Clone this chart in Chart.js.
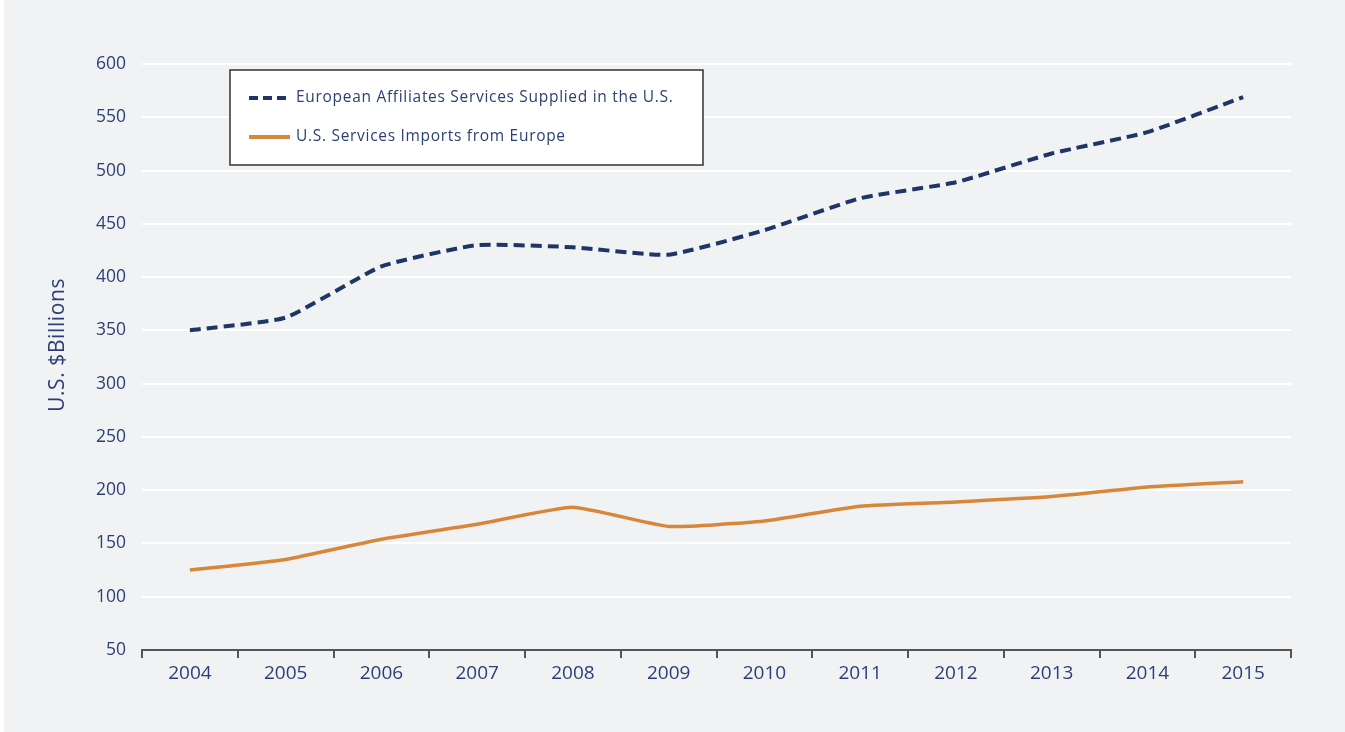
<!DOCTYPE html>
<html>
<head>
<meta charset="utf-8">
<script src="https://cdn.jsdelivr.net/npm/chart.js@4/dist/chart.umd.min.js"></script>
<style>
  html, body { margin:0; padding:0; background:#f1f2f4; }
  #wrap { position:relative; width:1345px; height:732px; }
</style>
</head>
<body>
<div id="wrap"><canvas id="chart" width="1345" height="732"></canvas></div>
<script>
const years = ["2004","2005","2006","2007","2008","2009","2010","2011","2012","2013","2014","2015"];
const affiliates = [350, 362, 410, 430, 428, 421, 444, 474, 489, 516, 536, 569];
const imports = [125, 135, 154, 168, 184, 166, 171, 185, 189, 194, 203, 208];
const seriesNames = ["European Affiliates Services Supplied in the U.S.", "U.S. Services Imports from Europe"];
const yTitle = "U.S. $Billions";

const NAVY = "#1f3467";
const ORANGE = "#d8873a";
const TEXT = "#2c3f74";
const FONT = "'Open Sans', Lato, sans-serif";

/* background: white strip on the left, grey panel */
const bgPlugin = {
  id: "bg",
  beforeDraw(chart) {
    const ctx = chart.ctx;
    ctx.save();
    ctx.fillStyle = "#ffffff";
    ctx.fillRect(0, 0, chart.width, chart.height);
    ctx.fillStyle = "#f1f2f4";
    ctx.fillRect(4, 0, chart.width - 4, chart.height);
    ctx.restore();
  }
};

/* boxed legend inside the plot + rotated y title */
const boxLegend = {
  id: "boxLegend",
  afterDraw(chart) {
    const ctx = chart.ctx;
    ctx.save();
    ctx.fillStyle = "#ffffff";
    ctx.fillRect(230, 70, 473, 95);
    ctx.strokeStyle = "#333333";
    ctx.lineWidth = 1.5;
    ctx.strokeRect(230, 70, 473, 95);

    const rows = [98, 137];
    chart.data.datasets.forEach((ds, i) => {
      const y = rows[i];
      ctx.beginPath();
      ctx.strokeStyle = ds.borderColor;
      ctx.lineWidth = 4;
      ctx.setLineDash(i === 0 ? [9, 5] : []);
      ctx.moveTo(249, y);
      ctx.lineTo(290, y);
      ctx.stroke();
      ctx.setLineDash([]);
      ctx.fillStyle = TEXT;
      ctx.font = "15.5px " + FONT;
      ctx.letterSpacing = "0.7px";
      ctx.textBaseline = "middle";
      ctx.fillText(ds.label, 296, y);
    });

    ctx.translate(58, 345);
    ctx.rotate(-Math.PI / 2);
    ctx.font = "21px " + FONT;
    ctx.letterSpacing = "0.6px";
    ctx.textAlign = "center";
    ctx.textBaseline = "middle";
    ctx.fillStyle = TEXT;
    ctx.fillText(yTitle, 0, 0);
    ctx.restore();
  }
};

new Chart(document.getElementById("chart"), {
  type: "line",
  data: {
    labels: years,
    datasets: [
      { label: seriesNames[0], data: affiliates, borderColor: NAVY, borderWidth: 4,
        borderDash: [11, 6], pointRadius: 0, tension: 0.15, fill: false },
      { label: seriesNames[1], data: imports, borderColor: ORANGE, borderWidth: 3.5,
        pointRadius: 0, tension: 0.15, fill: false }
    ]
  },
  options: {
    responsive: false,
    animation: false,
    layout: { padding: { top: 64, right: 54, left: 0, bottom: 0 } },
    plugins: { legend: { display: false }, tooltip: { enabled: false } },
    scales: {
      x: {
        offset: true,
        grid: { display: true, drawOnChartArea: false, drawTicks: true, tickLength: 8,
                color: "#555555", lineWidth: 2, offset: true },
        border: { display: true, color: "#555555", width: 2 },
        ticks: { color: TEXT, font: { family: FONT, size: 19 }, padding: 4, maxRotation: 0 },
        afterFit(scale) { scale.height = 82; }
      },
      y: {
        min: 50, max: 600,
        ticks: { stepSize: 50, color: TEXT, font: { family: FONT, size: 17.5 }, padding: 16 },
        grid: { color: "#ffffff", lineWidth: 2, drawTicks: false },
        border: { display: false },
        afterFit(scale) { scale.width = 142; }
      }
    }
  },
  plugins: [bgPlugin, boxLegend]
});
</script>
</body>
</html>
